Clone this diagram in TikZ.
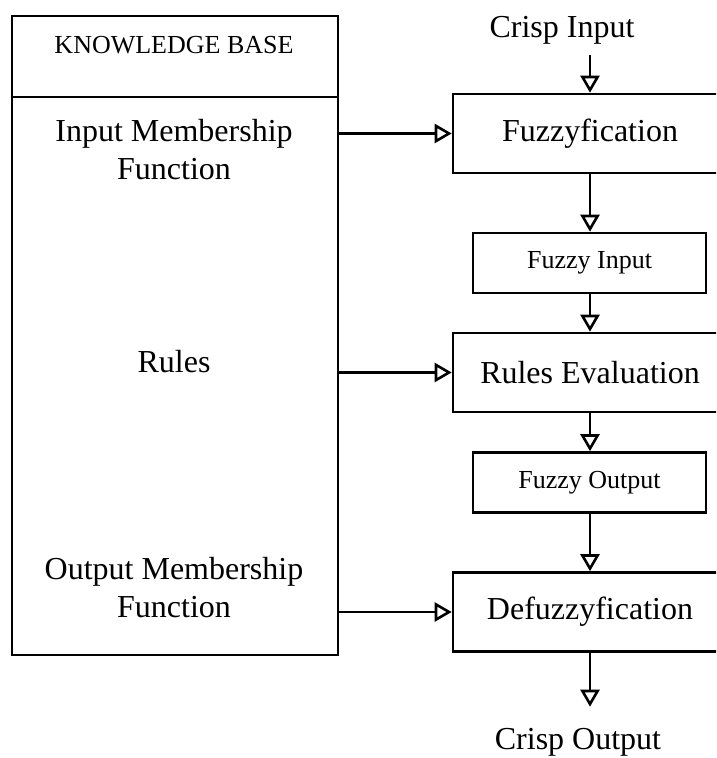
\documentclass[tikz,border=0pt]{standalone}
\usepackage{fontspec}
\setmainfont{Liberation Serif}
\usetikzlibrary{positioning,arrows.meta}

\begin{document}
\begin{tikzpicture}[x=0.5pt,y=-0.5pt,line width=1.3pt,
		bigbox/.style={draw,minimum width=137pt,minimum height=39.5pt,inner sep=0pt,font=\fontsize{16}{19}\selectfont},
		smallbox/.style={draw,minimum width=116.5pt,minimum height=30pt,inner sep=0pt,font=\fontsize{13}{15}\selectfont},
		txt/.style={inner sep=2pt,align=center,font=\fontsize{16}{19}\selectfont},
		flow/.style={-{Triangle[open,length=8.5pt,width=9.5pt]}}]
				\clip (0,0) rectangle (716,758);
				%Nodes
				\node[draw,minimum width=163pt,minimum height=319.5pt,inner sep=0pt] (kb) at (175,335.5) {};
				\node[txt,font=\fontsize{13}{15}\selectfont] (kbtitle) at (174,45) {KNOWLEDGE BASE};
				\node[txt] (inmf) 	at (174,150) {Input Membership\\Function};
				\node[txt] (rules) 	at (174,362) {Rules};
				\node[txt] (outmf) 	at (174,588) {Output Membership\\Function};
				\node[txt] (cin) 	at (562,30) {Crisp Input};
				\node[bigbox] (fuzz) 	at (590,133.5) {Fuzzyfication};
				\node[smallbox] (fin) 	at (589.5,263) {Fuzzy Input};
				\node[bigbox] (reval) 	at (590,372.5) {Rules Evaluation};
				\node[smallbox] (fout) 	at (589.5,482.5) {Fuzzy Output};
				\node[bigbox] (defuzz) 	at (590,612) {Defuzzyfication};
				\node[txt] (cout) 	at (578,742) {Crisp Output};
				\coordinate      (hl) 	at 	(0,97);

				%Lines
				\draw (kb.west |- hl) -- (kb.east |- hl);
				\draw[flow,shorten <=3pt] (fuzz.north |- cin.south) -- (fuzz.north);
				\draw[flow] (fuzz.south) -- (fin.north -| fuzz.south);
				\draw[flow] (fin.south -| reval.north) -- (reval.north);
				\draw[flow] (reval.south) -- (fout.north -| reval.south);
				\draw[flow] (fout.south -| defuzz.north) -- (defuzz.north);
				\draw[flow,shorten >=8pt] (defuzz.south) -- (defuzz.south |- cout.north);
				\draw[flow] (kb.east |- fuzz.west) -- (fuzz.west);
				\draw[flow] (kb.east |- reval.west) -- (reval.west);
				\draw[flow] (kb.east |- defuzz.west) -- (defuzz.west);

		\end{tikzpicture}
\end{document}
